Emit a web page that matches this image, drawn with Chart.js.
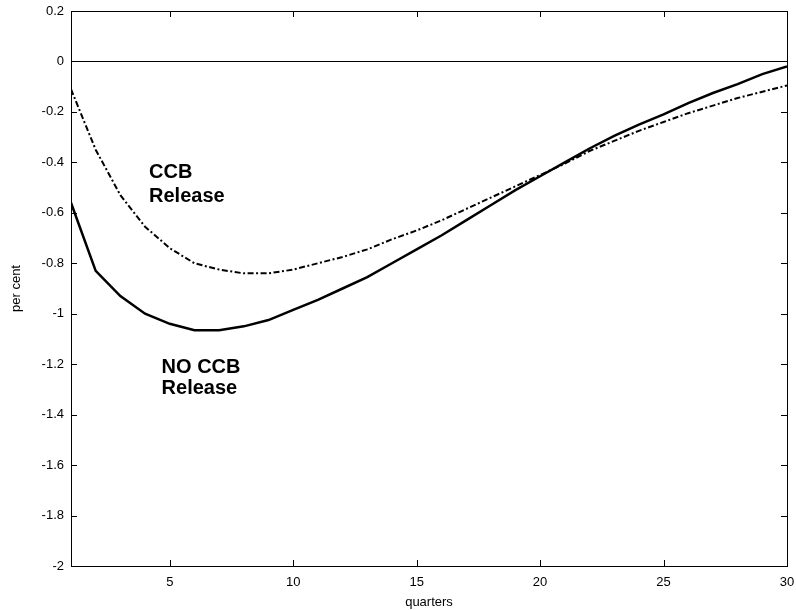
<!DOCTYPE html>
<html>
<head>
<meta charset="utf-8">
<script src="https://cdn.jsdelivr.net/npm/chart.js@4"></script>
<style>
  html, body { margin: 0; padding: 0; background: #fff; }
  #wrap { width: 796px; height: 610px; }
</style>
</head>
<body>
<div id="wrap"><canvas id="chart" width="796" height="610"></canvas></div>
<script>
const quarters = [1, 2, 3, 4, 5, 6, 7, 8, 9, 10, 11, 12, 13, 14, 15,
  16, 17, 18, 19, 20, 21, 22, 23, 24, 25, 26, 27, 28, 29, 30];
const noRelease = [-0.56, -0.83, -0.93, -1.0, -1.04, -1.065, -1.065, -1.05, -1.025, -0.985,
  -0.945, -0.9, -0.855, -0.8, -0.745, -0.69, -0.63, -0.57, -0.51, -0.455,
  -0.4, -0.345, -0.295, -0.25, -0.21, -0.165, -0.125, -0.09, -0.05, -0.02];
const ccbRelease = [-0.11, -0.35, -0.53, -0.655, -0.74, -0.8, -0.825, -0.84, -0.84, -0.825,
  -0.8, -0.775, -0.745, -0.705, -0.67, -0.63, -0.585, -0.54, -0.495, -0.45,
  -0.405, -0.355, -0.315, -0.275, -0.24, -0.205, -0.175, -0.145, -0.12, -0.095];
const xTicks = [5, 10, 15, 20, 25, 30];
const yTicks = [0.2, 0, -0.2, -0.4, -0.6, -0.8, -1, -1.2, -1.4, -1.6, -1.8, -2];

const FONT = "'Liberation Sans', Arial, Helvetica, sans-serif";
const tickLen = 6;

// box round the plot, inward tick marks, and the two curve labels
const frameTicks = {
  id: "frameTicks",
  afterDatasetsDraw(chart) {
    const { ctx, chartArea: a, scales: { x, y } } = chart;
    ctx.save();
    ctx.strokeStyle = "#000";
    ctx.lineWidth = 1;
    ctx.strokeRect(a.left + 0.5, a.top + 0.5, a.right - a.left, a.bottom - a.top);
    ctx.beginPath();
    xTicks.forEach(v => {
      const px = Math.round(x.getPixelForValue(v)) + 0.5;
      ctx.moveTo(px, a.bottom); ctx.lineTo(px, a.bottom - tickLen);
      ctx.moveTo(px, a.top); ctx.lineTo(px, a.top + tickLen);
    });
    yTicks.forEach(v => {
      const py = Math.round(y.getPixelForValue(v)) + 0.5;
      ctx.moveTo(a.left, py); ctx.lineTo(a.left + tickLen, py);
      ctx.moveTo(a.right, py); ctx.lineTo(a.right - tickLen, py);
    });
    ctx.stroke();

    ctx.fillStyle = "#000";
    ctx.font = "bold 20px " + FONT;
    ctx.textBaseline = "alphabetic";
    ctx.textAlign = "left";
    ctx.fillText("CCB", x.getPixelForValue(4.16), y.getPixelForValue(-0.46));
    ctx.fillText("Release", x.getPixelForValue(4.16), y.getPixelForValue(-0.556));
    ctx.fillText("NO CCB", x.getPixelForValue(4.67), y.getPixelForValue(-1.233));
    ctx.fillText("Release", x.getPixelForValue(4.67), y.getPixelForValue(-1.32));
    ctx.restore();
  }
};

const ctx = document.getElementById("chart").getContext("2d");
new Chart(ctx, {
  type: "line",
  data: {
    datasets: [
      {
        label: "NO CCB Release",
        data: quarters.map((q, i) => ({ x: q, y: noRelease[i] })),
        borderColor: "#000",
        borderWidth: 2.5,
        pointRadius: 0,
        tension: 0,
        fill: false,
      },
      {
        label: "CCB Release",
        data: quarters.map((q, i) => ({ x: q, y: ccbRelease[i] })),
        borderColor: "#000",
        borderWidth: 2,
        borderDash: [6, 2.5, 2, 2.5],
        pointRadius: 0,
        tension: 0,
        fill: false,
      },
    ],
  },
  options: {
    responsive: false,
    animation: false,
    layout: { padding: { top: 11, right: 9, left: 0, bottom: 0 } },
    plugins: {
      legend: { display: false },
      tooltip: { enabled: false },
    },
    scales: {
      x: {
        type: "linear",
        min: 1,
        max: 30,
        afterBuildTicks: s => { s.ticks = xTicks.map(v => ({ value: v })); },
        afterFit: s => { s.height = 44; s.paddingLeft = 0; s.paddingRight = 0; },
        grid: { display: false, drawTicks: false },
        border: { display: false },
        ticks: {
          color: "#000",
          font: { family: FONT, size: 13 },
          padding: 9,
          maxRotation: 0,
          callback: v => String(v),
        },
        title: {
          display: true,
          text: "quarters",
          color: "#000",
          font: { family: FONT, size: 13 },
          padding: { top: 0, bottom: 0 },
        },
      },
      y: {
        type: "linear",
        min: -2,
        max: 0.2,
        afterBuildTicks: s => { s.ticks = yTicks.map(v => ({ value: v })); },
        afterFit: s => { s.width = 71; s.paddingTop = 0; s.paddingBottom = 0; },
        grid: {
          drawTicks: false,
          lineWidth: 1,
          color: c => (c.tick && c.tick.value === 0 ? "#000" : "rgba(0,0,0,0)"),
        },
        border: { display: false },
        ticks: {
          color: "#000",
          font: { family: FONT, size: 13 },
          padding: 7,
          callback: v => String(+v.toFixed(1)),
        },
        title: {
          display: true,
          text: "per cent",
          color: "#000",
          font: { family: FONT, size: 13 },
          padding: { top: 9, bottom: 0 },
        },
      },
    },
  },
  plugins: [frameTicks],
});
</script>
</body>
</html>
